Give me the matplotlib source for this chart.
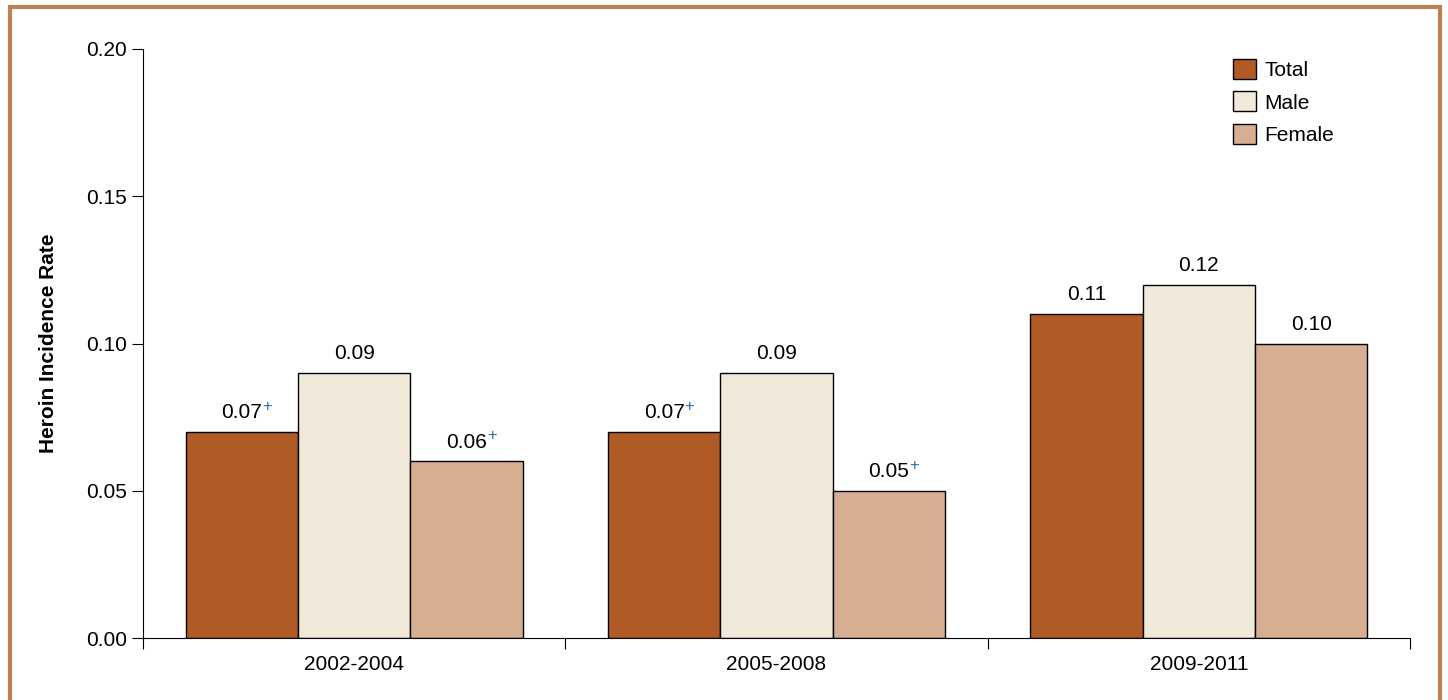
import numpy as np
import matplotlib.pyplot as plt
from matplotlib.patches import Rectangle

plt.rcParams['font.family'] = ['Liberation Sans', 'DejaVu Sans']

# данные
periods = ["2002-2004", "2005-2008", "2009-2011"]
series = ["Total", "Male", "Female"]
total = [0.07, 0.07, 0.11]
male = [0.09, 0.09, 0.12]
female = [0.06, 0.05, 0.10]
plus_total = [True, True, False]
plus_male = [False, False, False]
plus_female = [True, True, False]

colors = ["#B05A25", "#F0E8D8", "#D8AE92"]
w = 0.266

fig = plt.figure(figsize=[14.48, 7], dpi=100)
ax = fig.add_axes([143/1448, 1-638/700, (1410-143)/1448, (638-49)/700])

x = np.arange(len(periods))
for k, (vals, plus) in enumerate([(total, plus_total), (male, plus_male), (female, plus_female)]):
    xs = x + (k - 1) * w
    ax.bar(xs, vals, width=w, color=colors[k], edgecolor="black", linewidth=1, label=series[k])
    for xi, v, p in zip(xs, vals, plus):
        t = ax.annotate(f"{v:.2f}", (xi, v), xytext=(0, 7), textcoords="offset points",
                        ha="center", va="bottom", fontsize=15)
        if p:
            ax.annotate("+", (1, 1), xycoords=t, xytext=(0, 3), textcoords="offset points",
                        ha="left", va="top", fontsize=12, color="#2E6DB4")

ax.set_xlim(-0.5, 2.5)
ax.set_ylim(0, 0.2)
ax.set_yticks([0, 0.05, 0.1, 0.15, 0.2])
ax.set_yticklabels(["0.00", "0.05", "0.10", "0.15", "0.20"], fontsize=15)
ax.set_xticks([-0.5, 0.5, 1.5, 2.5])
ax.set_xticklabels([])
ax.set_xticks(x, minor=True)
ax.set_xticklabels(periods, minor=True, fontsize=15)
ax.tick_params(axis="x", which="minor", length=0, pad=12)
ax.tick_params(axis="x", which="major", direction="out", length=8)
ax.tick_params(axis="y", direction="out", length=8)
for s in ["top", "right"]:
    ax.spines[s].set_visible(False)
ax.set_ylabel("Heroin Incidence Rate", fontsize=15, fontweight="bold", labelpad=20)

ax.legend(loc="upper right", bbox_to_anchor=(0.955, 1.015), frameon=False, fontsize=15,
          handlelength=1.1, handleheight=1.1, handletextpad=0.4, labelspacing=0.55)

# рамка
fig.patches.append(Rectangle((10/1448, -0.05), (1440-10)/1448, 1.05 - 7/700, transform=fig.transFigure,
                             fill=False, edgecolor="#C0804D", linewidth=3))

fig.savefig("out.png", dpi=100)
